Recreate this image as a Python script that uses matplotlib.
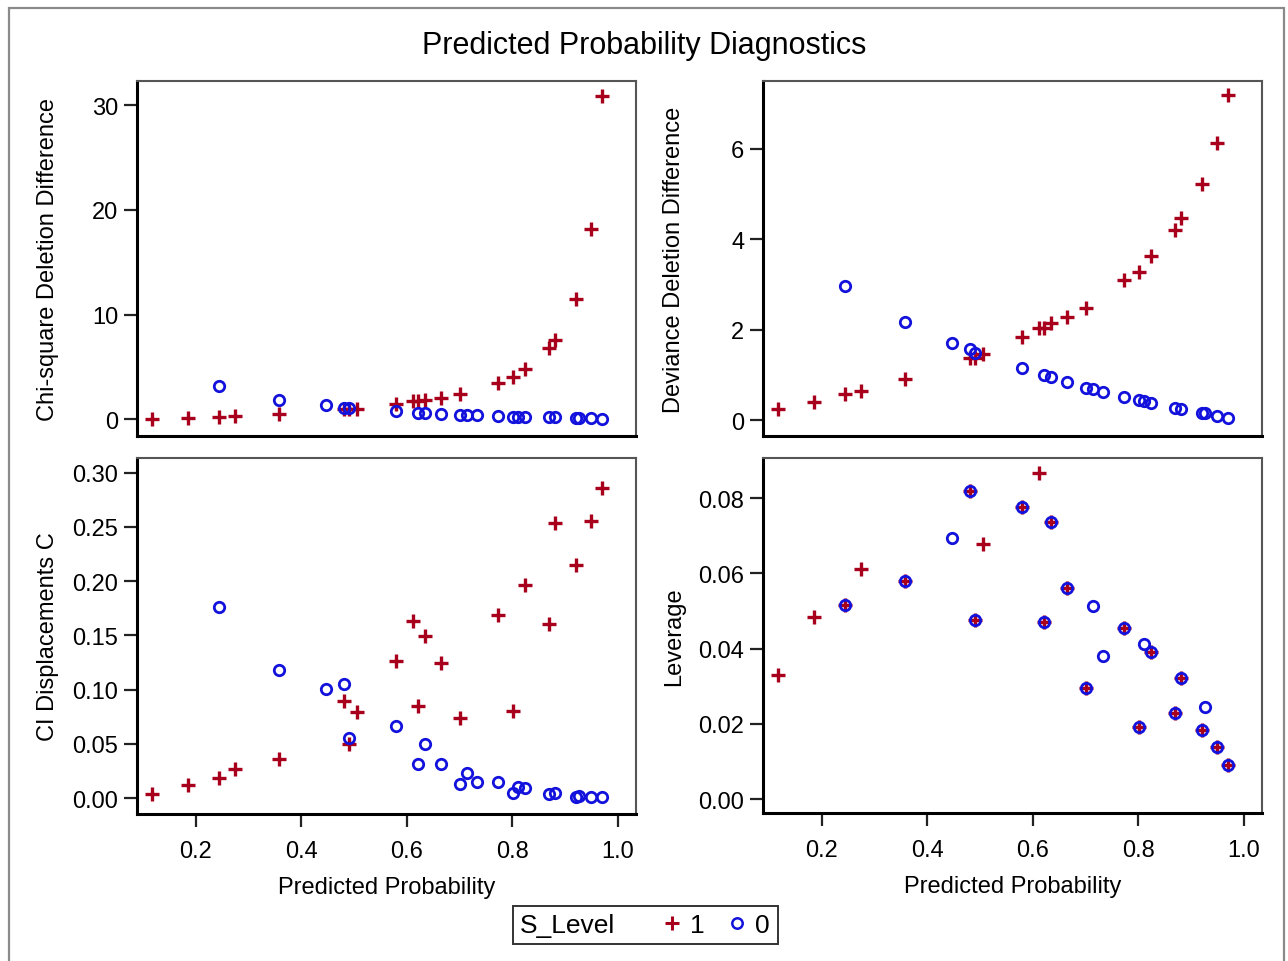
import numpy as np
import matplotlib
matplotlib.use("Agg")
import matplotlib.pyplot as plt
from matplotlib.patches import Rectangle
from matplotlib.lines import Line2D

plt.rcParams["font.family"] = ["Liberation Sans Narrow", "Liberation Sans", "DejaVu Sans"]

# predicted probabilities, S_Level = 1 (red +) and S_Level = 0 (blue o)
p_one = [0.118, 0.185, 0.245, 0.274, 0.357, 0.481, 0.490, 0.506, 0.579, 0.612, 0.621,
         0.635, 0.665, 0.701, 0.772, 0.801, 0.824, 0.870, 0.881, 0.920, 0.949, 0.969]
p_zero = [0.245, 0.357, 0.447, 0.481, 0.490, 0.579, 0.621, 0.635, 0.665, 0.701, 0.714,
          0.732, 0.772, 0.801, 0.810, 0.824, 0.870, 0.881, 0.920, 0.926, 0.949, 0.969]

# Chi-square deletion difference
chi_one = [0.07, 0.16, 0.26, 0.30, 0.54, 0.95, 0.95, 1.0, 1.5, 1.7, 1.7,
           1.8, 2.07, 2.4, 3.5, 4.08, 4.78, 6.8, 7.55, 11.5, 18.2, 30.9]
chi_zero = [3.2, 1.85, 1.34, 1.12, 1.1, 0.74, 0.6, 0.6, 0.48, 0.38, 0.38,
            0.36, 0.3, 0.25, 0.25, 0.25, 0.18, 0.18, 0.12, 0.12, 0.08, 0.06]

# Deviance deletion difference
dev_one = [0.24, 0.41, 0.58, 0.65, 0.91, 1.37, 1.37, 1.47, 1.83, 2.03, 2.03,
           2.14, 2.29, 2.48, 3.1, 3.28, 3.64, 4.2, 4.48, 5.22, 6.13, 7.18]
dev_zero = [2.97, 2.17, 1.70, 1.57, 1.48, 1.15, 0.99, 0.96, 0.84, 0.72, 0.68,
            0.62, 0.52, 0.44, 0.42, 0.38, 0.27, 0.24, 0.16, 0.15, 0.10, 0.05]

# CI displacement C
c_one = [0.0043, 0.0123, 0.019, 0.0267, 0.0366, 0.0895, 0.0498, 0.0796, 0.126, 0.1636, 0.085,
         0.1494, 0.1245, 0.0735, 0.1688, 0.0806, 0.1965, 0.1605, 0.2537, 0.2152, 0.2558, 0.2857]
c_zero = [0.1765, 0.1184, 0.1003, 0.105, 0.0553, 0.0667, 0.032, 0.0498, 0.032, 0.0129, 0.023,
          0.015, 0.015, 0.0052, 0.0108, 0.009, 0.0037, 0.0046, 0.0015, 0.002, 0.0012, 0.001]

# Leverage
lev_one = [0.0329, 0.0485, 0.0516, 0.0613, 0.058, 0.0818, 0.0477, 0.0677, 0.0778, 0.0866, 0.047,
           0.0736, 0.056, 0.0295, 0.0456, 0.0193, 0.039, 0.023, 0.0323, 0.0183, 0.0138, 0.0091]
lev_zero = [0.0516, 0.058, 0.0695, 0.0818, 0.0477, 0.0778, 0.047, 0.0736, 0.056, 0.0295, 0.0513,
            0.0381, 0.0456, 0.0193, 0.0413, 0.039, 0.023, 0.0323, 0.0183, 0.0245, 0.0138, 0.0091]

x_ticks = [0.2, 0.4, 0.6, 0.8, 1.0]
red = "#A8001C"
blue = "#1212DC"

panels = [
    ("Chi-square Deletion Difference", chi_one, chi_zero, (-1.6, 32.3), [0, 10, 20, 30], "%d"),
    ("Deviance Deletion Difference", dev_one, dev_zero, (-0.35, 7.5), [0, 2, 4, 6], "%d"),
    ("CI Displacements C", c_one, c_zero, (-0.0145, 0.3134),
     [0, 0.05, 0.10, 0.15, 0.20, 0.25, 0.30], "%.2f"),
    ("Leverage", lev_one, lev_zero, (-0.0037, 0.0907), [0, 0.02, 0.04, 0.06, 0.08], "%.2f"),
]

W, H = 1288, 962
fig = plt.figure(figsize=(W / 100, H / 100), dpi=100)

# panel boxes in pixels: left, top, right, bottom
boxes = [(137, 82, 636, 437), (763, 82, 1262, 437),
         (137, 459, 636, 815), (763, 459, 1262, 814)]

for i, (ylabel, y1, y0, ylim, yt, fmt) in enumerate(panels):
    l, t, r, b = boxes[i]
    ax = fig.add_axes([l / W, (H - b) / H, (r - l) / W, (b - t) / H])
    ax.plot(p_one, y1, linestyle="none", marker="+", ms=10, mew=2.4, color=red)
    ax.plot(p_zero, y0, linestyle="none", marker="o", ms=7.5, mew=2.0,
            markerfacecolor="none", markeredgecolor=blue)
    ax.set_xlim(0.089, 1.034)
    ax.set_ylim(*ylim)
    ax.set_yticks(yt)
    ax.set_yticklabels([fmt % v for v in yt])
    ax.set_ylabel(ylabel, fontsize=17)
    ax.yaxis.set_label_coords(-0.178, 0.5)
    ax.yaxis.label.set_va("center")
    if i >= 2:
        ax.set_xticks(x_ticks)
        ax.set_xticklabels(["%.1f" % v for v in x_ticks])
        ax.set_xlabel("Predicted Probability", fontsize=17)
        ax.xaxis.set_label_coords(0.5, -0.205)
        ax.xaxis.label.set_va("center")
    else:
        ax.set_xticks([])
    ax.tick_params(axis="both", direction="out", length=9.5, width=1.6,
                   labelsize=17, pad=4, color="#222222")
    ax.tick_params(axis="x", pad=9)
    for side in ("left", "bottom"):
        ax.spines[side].set_linewidth(2.2)
        ax.spines[side].set_color("black")
    for side in ("top", "right"):
        ax.spines[side].set_linewidth(1.5)
        ax.spines[side].set_color("#555555")

fig.text(0.5, (H - 46) / H, "Predicted Probability Diagnostics",
         ha="center", va="center", fontsize=22)

# outer border
fig.patches.append(Rectangle((9 / W, -0.02), (1284 - 9) / W, 1.02 - 9 / H,
                             transform=fig.transFigure, fill=False,
                             edgecolor="#8a8a8a", linewidth=1.6))

# legend box
fig.patches.append(Rectangle((513 / W, (H - 945) / H), (778 - 513) / W, 38 / H,
                             transform=fig.transFigure, fill=False,
                             edgecolor="#333333", linewidth=1.4))
fig.text(520 / W, (H - 926) / H, "S_Level", ha="left", va="center", fontsize=19)
handles = [Line2D([], [], linestyle="none", marker="+", ms=10, mew=2.2, color=red),
           Line2D([], [], linestyle="none", marker="o", ms=7.5, mew=1.8,
                  markerfacecolor="none", markeredgecolor=blue)]
fig.legend(handles, ["1", "0"], loc="center left", bbox_to_anchor=(660 / W, (H - 926) / H),
           ncol=2, frameon=False, fontsize=19, handlelength=0.9, handletextpad=0.25,
           columnspacing=0.75, borderpad=0, borderaxespad=0)

fig.savefig("out.png", dpi=100)
